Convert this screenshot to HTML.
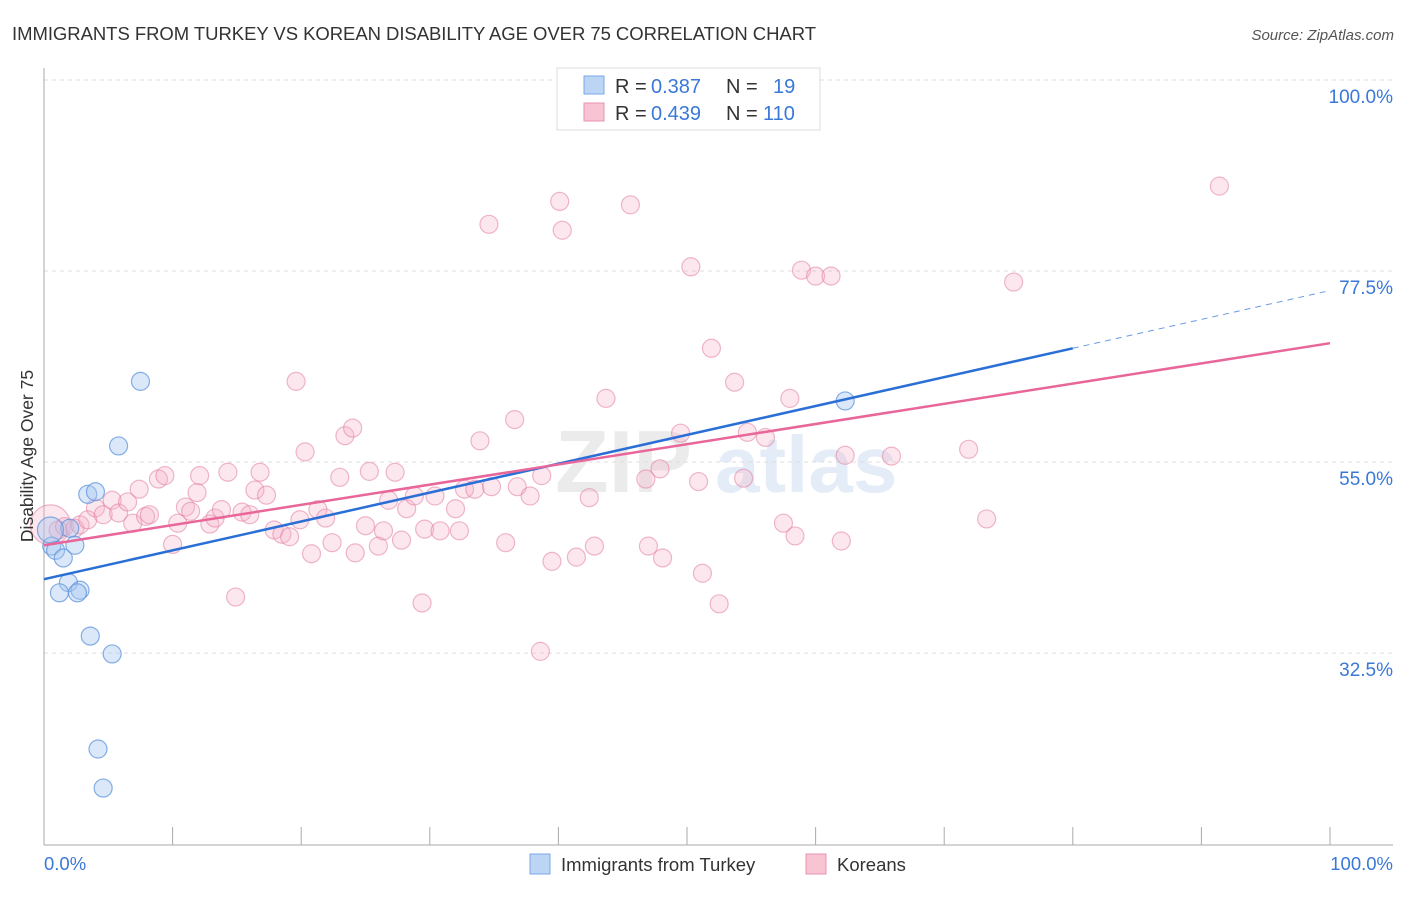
<!DOCTYPE html>
<html><head><meta charset="utf-8">
<style>
body{margin:0;background:#fff;font-family:"Liberation Sans",sans-serif;}
svg text{font-family:"Liberation Sans",sans-serif;}
</style></head>
<body>
<svg id="chart" width="1406" height="892" xmlns="http://www.w3.org/2000/svg">
<text x="12" y="40" font-size="18.5" fill="#333" textLength="804">IMMIGRANTS FROM TURKEY VS KOREAN DISABILITY AGE OVER 75 CORRELATION CHART</text>
<text x="1394" y="40" font-size="15" fill="#555" text-anchor="end" font-style="italic">Source: ZipAtlas.com</text>
<g opacity="0.5">
<text x="555" y="492" font-size="88" font-family="Liberation Serif" fill="#d8d8d8" font-weight="bold">ZIP</text>
<text x="715" y="492" font-size="80" fill="#c8daf0" font-weight="bold">atlas</text>
</g>
<g id="grid"></g>
<g id="axes"></g>
<g id="marks"></g>
<text transform="translate(33,456) rotate(-90)" font-size="17.5" fill="#333" text-anchor="middle">Disability Age Over 75</text>
<text x="44" y="870" font-size="18.5" fill="#3a78d8">0.0%</text>
<text x="1393" y="870" font-size="18.5" fill="#3a78d8" text-anchor="end">100.0%</text>
<g>
<rect x="557" y="68" width="263" height="62" fill="#fff" stroke="#ddd"/>
<rect x="584" y="76" width="20" height="18" fill="#bcd5f5" stroke="#7aa8e8"/>
<rect x="584" y="103" width="20" height="18" fill="#f8c4d3" stroke="#e890b0"/>
<text x="615" y="93" font-size="20" fill="#333">R = <tspan x="651" fill="#3a78d8">0.387</tspan><tspan x="726">N = </tspan><tspan x="773" fill="#3a78d8">19</tspan></text>
<text x="615" y="120" font-size="20" fill="#333">R = <tspan x="651" fill="#3a78d8">0.439</tspan><tspan x="726">N = </tspan><tspan x="763" fill="#3a78d8">110</tspan></text>
</g>
<g>
<rect x="530" y="854" width="20" height="20" fill="#bcd5f5" stroke="#7aa8e8"/>
<text x="561" y="871" font-size="18.5" fill="#333">Immigrants from Turkey</text>
<rect x="806" y="854" width="20" height="20" fill="#f8c4d3" stroke="#e890b0"/>
<text x="837" y="871" font-size="18.5" fill="#333">Koreans</text>
</g>
</svg>
<script>
const yTicks=[100,77.5,55,32.5];
const yTickLabels=["100.0%","77.5%","55.0%","32.5%"];
const xTicks=[0,10,20,30,40,50,60,70,80,90,100];
const blueX=[0.6,0.9,1.5,1.9,1.2,2.8,2.6,3.6,5.3,4.2,4.6,7.5,5.8,3.4,4.0,2.4,2.0,0.5,62.3];
const blueY=[45.1,44.6,43.7,40.8,39.6,39.9,39.6,34.5,32.4,21.2,16.6,64.5,56.9,51.2,51.5,45.2,47.2,47.0,62.2];
const pinkX=[0.5,1.1,1.6,2.4,2.8,3.4,4.0,4.6,5.3,5.8,6.5,6.9,7.4,7.9,8.2,8.9,9.4,10.0,10.4,11.0,11.4,11.9,12.1,12.9,13.3,13.8,14.3,14.9,15.4,16.0,16.4,16.8,17.3,17.9,18.5,19.1,19.6,19.9,20.3,20.8,21.3,21.9,22.4,23.0,23.4,24.0,24.2,25.0,25.3,26.0,26.4,26.8,27.3,27.8,28.2,28.8,29.4,29.6,30.4,30.8,32.0,32.3,32.7,33.5,33.9,34.6,34.8,35.9,36.6,36.8,37.8,38.6,38.7,39.5,40.1,40.3,41.4,42.4,42.8,43.7,45.6,46.8,47.0,47.9,48.1,49.5,50.3,50.9,51.2,51.9,52.5,53.7,54.4,54.7,56.1,57.5,58.0,58.4,58.9,60.0,61.2,62.3,62.0,65.9,71.9,73.3,75.4,91.4];
const pinkY=[47.6,47.0,47.4,47.2,47.6,48.2,49.6,48.8,50.5,49.0,50.3,47.8,51.8,48.6,48.8,53.0,53.4,45.3,47.8,49.7,49.2,51.4,53.4,47.7,48.4,49.4,53.8,39.1,49.1,48.8,51.7,53.8,51.1,47.0,46.5,46.2,64.5,48.2,56.2,44.2,49.4,48.4,45.5,53.2,58.1,59.0,44.3,47.5,53.9,45.1,46.9,50.5,53.8,45.8,49.5,51.0,38.4,47.1,51.0,46.9,49.5,46.9,51.8,51.8,57.5,83.0,52.1,45.5,60.0,52.1,51.0,32.7,53.4,43.3,85.7,82.3,43.8,50.8,45.1,62.5,85.3,53.0,45.1,54.2,43.7,58.4,78.0,52.7,41.9,68.4,38.3,64.4,53.1,58.5,57.9,47.8,62.5,46.3,77.6,76.9,76.9,55.8,45.7,55.7,56.5,48.3,76.2,87.5];
const blueTrend=[41.2,0.34];
const pinkTrend=[45.2,0.238];
const NS="http://www.w3.org/2000/svg";
const sx=v=>44+v*12.86;
const sy=v=>929-v*8.49;
function mk(tag,attrs,parent){const e=document.createElementNS(NS,tag);for(const k in attrs)e.setAttribute(k,attrs[k]);parent.appendChild(e);return e;}
const grid=document.getElementById('grid'),axes=document.getElementById('axes'),marks=document.getElementById('marks');
yTicks.forEach((t,i)=>{
 const l=mk('line',{x1:44,x2:1393,y1:sy(t),y2:sy(t),stroke:'#ddd','stroke-dasharray':'4,4'},grid);
 
 
 const tx=mk('text',{x:1393,y:sy(t)+23,'font-size':19,fill:'#3a78d8','text-anchor':'end'},grid);
 tx.textContent=yTickLabels[i];
 
 
});
const ya=mk('line',{x1:44,x2:44,y1:68,y2:845,stroke:'#aaa'},axes);


const xa=mk('line',{x1:44,x2:1393,y1:845,y2:845,stroke:'#aaa'},axes);


xTicks.forEach(t=>{
 const k=mk('line',{x1:sx(t),x2:sx(t),y1:827,y2:845,stroke:'#aaa'},axes);
 
 
});
pinkX.forEach((x,i)=>{
 const c=mk('circle',{cx:sx(x),cy:sy(pinkY[i]),r:i===0?20:9,fill:'rgba(244,175,198,0.3)',stroke:'rgba(225,125,160,0.55)','stroke-width':1.2},marks);
 
 
});
blueX.forEach((x,i)=>{
 const c=mk('circle',{cx:sx(x),cy:sy(blueY[i]),r:i===17?13:9,fill:'rgba(165,198,240,0.4)',stroke:'rgba(95,148,220,0.75)','stroke-width':1.2},marks);
 
 
});
const bt=x=>blueTrend[0]+blueTrend[1]*x, pt=x=>pinkTrend[0]+pinkTrend[1]*x;
const bl=mk('line',{x1:sx(0),y1:sy(bt(0)),x2:sx(80),y2:sy(bt(80)),stroke:'#2a6fd6','stroke-width':2.5},marks);


const bd=mk('line',{x1:sx(80),y1:sy(bt(80)),x2:sx(100),y2:sy(bt(100)),stroke:'#6a9be0','stroke-width':1,'stroke-dasharray':'6,5'},marks);


const pl=mk('line',{x1:sx(0),y1:sy(pt(0)),x2:sx(100),y2:sy(pt(100)),stroke:'#e8669a','stroke-width':2.5},marks);


</script>
</body></html>
